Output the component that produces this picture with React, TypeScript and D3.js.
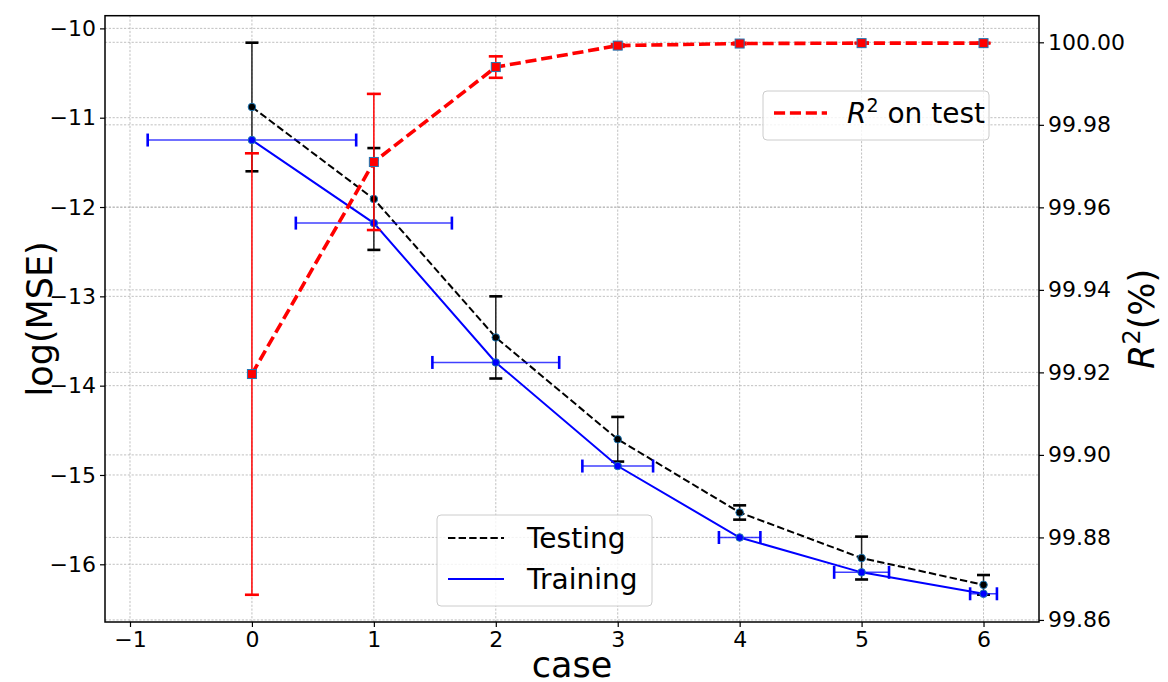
import React, { useRef, useEffect } from "react";
import * as d3 from "d3";

// values
const cases = [0, 1, 2, 3, 4, 5, 6];
const testMean = [-10.88, -11.91, -13.46, -14.6, -15.42, -15.93, -16.23];
const testErr = [0.72, 0.57, 0.46, 0.25, 0.08, 0.24, 0.11];
const trainMean = [-11.25, -12.18, -13.74, -14.9, -15.7, -16.09, -16.33];
const trainXErr = [0.855, 0.64, 0.52, 0.29, 0.17, 0.225, 0.11];
const r2Mean = [99.9196, 99.971, 99.994, 99.9992, 99.9997, 99.9998, 99.9998];
const r2Err = [0.0535, 0.0165, 0.0026, 0.0003, 0.0002, 0.0001, 0.0001];

const xTicks = [-1, 0, 1, 2, 3, 4, 5, 6];
const leftTicks = [-10, -11, -12, -13, -14, -15, -16];
const rightTicks = [99.86, 99.88, 99.9, 99.92, 99.94, 99.96, 99.98, 100.0];

const W = 1168;
const H = 682;
const FONT = "DejaVu Sans, sans-serif";
const EDGE = "#1f77b4";

const App: React.FC = () => {
  const ref = useRef<SVGSVGElement>(null);

  useEffect(() => {
    const svg = d3.select(ref.current);
    svg.selectAll("*").remove();

    const plot = { left: 105, right: 1039, top: 15.7, bottom: 622 };

    const x = d3.scaleLinear().domain([-1.205, 6.455]).range([plot.left, plot.right]);
    const yL = d3.scaleLinear().domain([-16.646, -9.858]).range([plot.bottom, plot.top]);
    const yR = d3.scaleLinear().domain([99.8595, 100.00645]).range([plot.bottom, plot.top]);

    svg.append("rect").attr("width", W).attr("height", H).attr("fill", "white");

    // grid
    const grid = svg.append("g").attr("stroke", "#b0b0b0").attr("stroke-width", 0.8).attr("stroke-dasharray", "2.2,1.6");
    xTicks.forEach((t) =>
      grid.append("line").attr("x1", x(t)).attr("x2", x(t)).attr("y1", plot.top).attr("y2", plot.bottom)
    );
    leftTicks.forEach((t) =>
      grid.append("line").attr("x1", plot.left).attr("x2", plot.right).attr("y1", yL(t)).attr("y2", yL(t))
    );
    rightTicks.forEach((t) =>
      grid.append("line").attr("x1", plot.left).attr("x2", plot.right).attr("y1", yR(t)).attr("y2", yR(t))
    );

    const data = cases.map((c, i) => ({
      c,
      tm: testMean[i],
      te: testErr[i],
      rm: trainMean[i],
      rx: trainXErr[i],
      r2: r2Mean[i],
      r2e: r2Err[i],
    }));

    // Testing: black dashed with y error bars
    const g1 = svg.append("g");
    g1.append("path")
      .datum(data)
      .attr("fill", "none")
      .attr("stroke", "black")
      .attr("stroke-width", 2)
      .attr("stroke-dasharray", "7.4,3.2")
      .attr("d", d3.line<any>().x((d) => x(d.c)).y((d) => yL(d.tm)));
    data.forEach((d) => {
      const px = x(d.c);
      g1.append("line").attr("x1", px).attr("x2", px)
        .attr("y1", yL(d.tm + d.te)).attr("y2", yL(d.tm - d.te))
        .attr("stroke", "#222").attr("stroke-width", 1.5);
      [d.tm + d.te, d.tm - d.te].forEach((v) =>
        g1.append("line").attr("x1", px - 6.5).attr("x2", px + 6.5)
          .attr("y1", yL(v)).attr("y2", yL(v))
          .attr("stroke", "black").attr("stroke-width", 2.6)
      );
    });

    // Training: blue solid with x error bars
    const g2 = svg.append("g");
    g2.append("path")
      .datum(data)
      .attr("fill", "none")
      .attr("stroke", "#0000ff")
      .attr("stroke-width", 2)
      .attr("d", d3.line<any>().x((d) => x(d.c)).y((d) => yL(d.rm)));
    data.forEach((d) => {
      const py = yL(d.rm);
      g2.append("line").attr("x1", x(d.c - d.rx)).attr("x2", x(d.c + d.rx))
        .attr("y1", py).attr("y2", py)
        .attr("stroke", "#0000ff").attr("stroke-opacity", 0.75).attr("stroke-width", 1.5);
      [d.c - d.rx, d.c + d.rx].forEach((v) =>
        g2.append("line").attr("x1", x(v)).attr("x2", x(v))
          .attr("y1", py - 6.5).attr("y2", py + 6.5)
          .attr("stroke", "#0000ff").attr("stroke-width", 2.6)
      );
    });

    // markers
    data.forEach((d) => {
      svg.append("circle").attr("cx", x(d.c)).attr("cy", yL(d.tm)).attr("r", 3.8)
        .attr("fill", "black").attr("stroke", EDGE).attr("stroke-width", 1);
    });
    data.forEach((d) => {
      svg.append("circle").attr("cx", x(d.c)).attr("cy", yL(d.rm)).attr("r", 3.8)
        .attr("fill", "#0000ff").attr("stroke", EDGE).attr("stroke-width", 1);
    });

    // Testing / Training legend
    const lg = svg.append("g").attr("font-family", FONT).attr("font-size", 28);
    lg.append("rect").attr("x", 437).attr("y", 515).attr("width", 215).attr("height", 91)
      .attr("rx", 4).attr("fill", "white").attr("fill-opacity", 0.8).attr("stroke", "#cccccc");
    lg.append("line").attr("x1", 448).attr("x2", 504).attr("y1", 538).attr("y2", 538)
      .attr("stroke", "black").attr("stroke-width", 2).attr("stroke-dasharray", "7.4,3.2");
    lg.append("text").attr("x", 527).attr("y", 538).attr("dy", "0.35em").text("Testing");
    lg.append("line").attr("x1", 448).attr("x2", 504).attr("y1", 579).attr("y2", 579)
      .attr("stroke", "#0000ff").attr("stroke-width", 2);
    lg.append("text").attr("x", 527).attr("y", 579).attr("dy", "0.35em").text("Training");

    // R^2 on test (right axis)
    const g3 = svg.append("g");
    data.forEach((d) => {
      const px = x(d.c);
      g3.append("line").attr("x1", px).attr("x2", px)
        .attr("y1", yR(d.r2 + d.r2e)).attr("y2", yR(d.r2 - d.r2e))
        .attr("stroke", "#ff0000").attr("stroke-width", 1.5);
      [d.r2 + d.r2e, d.r2 - d.r2e].forEach((v) =>
        g3.append("line").attr("x1", px - 7).attr("x2", px + 7)
          .attr("y1", yR(v)).attr("y2", yR(v))
          .attr("stroke", "#ff0000").attr("stroke-width", 2.6)
      );
    });
    g3.append("path")
      .datum(data)
      .attr("fill", "none")
      .attr("stroke", "#ff0000")
      .attr("stroke-width", 3.6)
      .attr("stroke-dasharray", "11.1,4.8")
      .attr("d", d3.line<any>().x((d) => x(d.c)).y((d) => yR(d.r2)));
    data.forEach((d) => {
      g3.append("rect").attr("x", x(d.c) - 4.5).attr("y", yR(d.r2) - 4.5)
        .attr("width", 9).attr("height", 9)
        .attr("fill", "#ff0000").attr("stroke", EDGE).attr("stroke-width", 1);
    });

    const lr = svg.append("g").attr("font-family", FONT).attr("font-size", 28);
    lr.append("rect").attr("x", 763).attr("y", 91).attr("width", 226).attr("height", 49)
      .attr("rx", 4).attr("fill", "white").attr("fill-opacity", 0.8).attr("stroke", "#cccccc");
    lr.append("line").attr("x1", 774).attr("x2", 827).attr("y1", 113).attr("y2", 113)
      .attr("stroke", "#ff0000").attr("stroke-width", 3.6).attr("stroke-dasharray", "11.1,4.8");
    const lt = lr.append("text").attr("x", 847).attr("y", 113).attr("dy", "0.35em");
    lt.append("tspan").attr("font-style", "italic").text("R");
    lt.append("tspan").attr("font-size", 19).attr("dy", -11).text("2");
    lt.append("tspan").attr("dy", 11).text("\u00a0on test");

    // spines
    svg.append("rect").attr("x", plot.left).attr("y", plot.top)
      .attr("width", plot.right - plot.left).attr("height", plot.bottom - plot.top)
      .attr("fill", "none").attr("stroke", "black").attr("stroke-width", 1.5);

    // axes
    const fmtMinus = (v: number) => (v < 0 ? "\u2212" + Math.abs(v) : String(v));
    const axB = svg.append("g").attr("transform", `translate(0,${plot.bottom})`)
      .call(d3.axisBottom(x).tickValues(xTicks).tickSize(5).tickPadding(4).tickFormat((d) => fmtMinus(+d)));
    const axL = svg.append("g").attr("transform", `translate(${plot.left},0)`)
      .call(d3.axisLeft(yL).tickValues(leftTicks).tickSize(5).tickPadding(4).tickFormat((d) => fmtMinus(+d)));
    const axR = svg.append("g").attr("transform", `translate(${plot.right},0)`)
      .call(d3.axisRight(yR).tickValues(rightTicks).tickSize(5).tickPadding(4).tickFormat(d3.format(".2f")));
    [axB, axL, axR].forEach((a) => {
      a.select(".domain").remove();
      a.selectAll("line").attr("stroke", "black").attr("stroke-width", 1.2);
      a.selectAll("text").attr("font-family", FONT).attr("font-size", 22).attr("fill", "black");
    });

    // axis labels
    svg.append("text").attr("x", (plot.left + plot.right) / 2).attr("y", 665)
      .attr("text-anchor", "middle").attr("dy", "0.35em")
      .attr("font-family", FONT).attr("font-size", 35).text("case");
    svg.append("text").attr("transform", `translate(40,${(plot.top + plot.bottom) / 2}) rotate(-90)`)
      .attr("text-anchor", "middle").attr("dy", "0.35em")
      .attr("font-family", FONT).attr("font-size", 35).text("log(MSE)");
    const rl = svg.append("text").attr("transform", `translate(1142,${(plot.top + plot.bottom) / 2}) rotate(-90)`)
      .attr("text-anchor", "middle").attr("dy", "0.35em")
      .attr("font-family", FONT).attr("font-size", 35);
    rl.append("tspan").attr("font-style", "italic").text("R");
    rl.append("tspan").attr("font-size", 24).attr("dy", -14).text("2");
    rl.append("tspan").attr("dy", 14).text("(%)");
  }, []);

  return (
    <div style={{ position: "fixed", left: 0, top: 0, width: W, height: H }}>
      <svg ref={ref} width={W} height={H} style={{ display: "block" }}></svg>
    </div>
  );
};

export default App;
